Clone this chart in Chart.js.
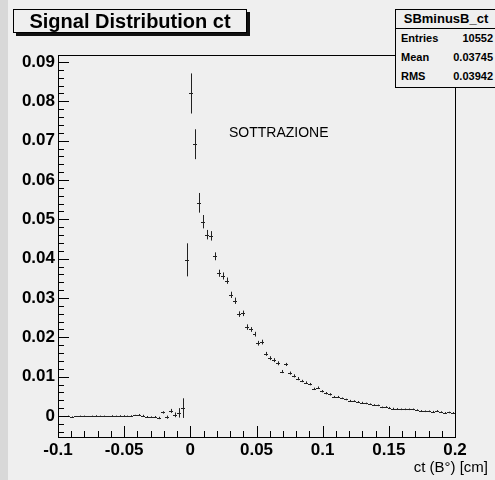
<!DOCTYPE html>
<html>
<head>
<meta charset="utf-8">
<title>Signal Distribution ct</title>
<script src="https://cdn.jsdelivr.net/npm/chart.js@4.4.1/dist/chart.umd.min.js"></script>
<style>
  html, body { margin: 0; padding: 0; }
  body {
    width: 495px; height: 480px; position: relative; overflow: hidden;
    background: #d8d8d8;
    font-family: "Liberation Sans", Arial, Helvetica, sans-serif;
  }
  #pad { position: absolute; left: 8px; top: 0; width: 487px; height: 480px; background: #efefef; }
  #chart { position: absolute; left: 0; top: 0; }
  #title {
    position: absolute; left: 13px; top: 9px; width: 232px; height: 22px;
    border: 1px solid #000; background: #efefef; box-shadow: 3px 3px 0 #111;
    font-weight: bold; font-size: 20px; line-height: 22px; text-align: center; color: #000;
  }
  #stats {
    position: absolute; left: 395px; top: 9px; width: 110px; height: 77px;
    border: 1px solid #000; background: #efefef; color: #000; font-weight: bold;
  }
  #stats .head {
    width: 100px; height: 18px; line-height: 18px; font-size: 13px; text-align: center;
    border-bottom: 1px solid #000;
  }
  #stats .row { position: relative; width: 100px; height: 19px; line-height: 19px; font-size: 11px; }
  #stats .row span { position: absolute; }
  #stats .row .k { left: 5px; }
  #stats .row .v { right: 3px; }
  #note { position: absolute; left: 229px; top: 125px; font-size: 14px; line-height: 14px; color: #000; }
  #xtitle { position: absolute; right: 7px; top: 459px; font-size: 15px; line-height: 16px; color: #000; }
</style>
</head>
<body>
<div id="pad"></div>
<canvas id="chart" width="495" height="480"></canvas>
<div id="title">Signal Distribution ct</div>
<div id="stats">
  <div class="head">SBminusB_ct</div>
  <div class="row"><span class="k">Entries</span><span class="v">10552</span></div>
  <div class="row"><span class="k">Mean</span><span class="v">0.03745</span></div>
  <div class="row"><span class="k">RMS</span><span class="v">0.03942</span></div>
</div>
<div id="note">SOTTRAZIONE</div>
<div id="xtitle">ct (B°) [cm]</div>
<script>
// histogram binning: 100 bins from -0.1 to 0.2 cm
const binLow = -0.1;
const binWidth = 0.003;

const binValues = [
  -0.0001, -0.0001, 0.0000, -0.0002, -0.0001, 0.0000, 0.0000, -0.0001, 0.0000, 0.0001,
  0.0000, 0.0000, -0.0001, 0.0001, 0.0000, 0.0001, 0.0001, 0.0000, 0.0001, 0.0002,
  0.0003, 0.0001, -0.0002, -0.0003, -0.0002, -0.0005, 0.0009, -0.0003, 0.0013, 0.0003,
  0.0008, 0.0020, 0.0397, 0.0820, 0.0691, 0.0542, 0.0494, 0.0461, 0.0458, 0.0406,
  0.0363, 0.0356, 0.0344, 0.0308, 0.0293, 0.0259, 0.0261, 0.0226, 0.0220, 0.0208,
  0.0185, 0.0188, 0.0158, 0.0147, 0.0142, 0.0134, 0.0113, 0.0131, 0.0109, 0.0102,
  0.0095, 0.0089, 0.0085, 0.0081, 0.0069, 0.0072, 0.0063, 0.0058, 0.0055, 0.0049,
  0.0049, 0.0045, 0.0042, 0.0039, 0.0038, 0.0036, 0.0034, 0.0032, 0.0030, 0.0028,
  0.0027, 0.0022, 0.0023, 0.0021, 0.0019, 0.0018, 0.0017, 0.0017, 0.0017, 0.0017,
  0.0015, 0.0013, 0.0012, 0.0012, 0.0011, 0.0013, 0.0010, 0.0008, 0.0009, 0.0008
];

const binErrors = [
  0.0001, 0.0001, 0.0001, 0.0001, 0.0001, 0.0001, 0.0001, 0.0001, 0.0001, 0.0001,
  0.0001, 0.0001, 0.0001, 0.0001, 0.0001, 0.0001, 0.0001, 0.0001, 0.0001, 0.0001,
  0.0002, 0.0002, 0.0002, 0.0002, 0.0002, 0.0003, 0.0003, 0.0004, 0.0005, 0.0006,
  0.0012, 0.0025, 0.0042, 0.0051, 0.0038, 0.0025, 0.0017, 0.0012, 0.0012, 0.0010,
  0.0009, 0.0009, 0.0008, 0.0008, 0.0008, 0.0007, 0.0007, 0.0007, 0.0006, 0.0006,
  0.0006, 0.0006, 0.0005, 0.0005, 0.0005, 0.0005, 0.0004, 0.0004, 0.0004, 0.0004,
  0.0004, 0.0003, 0.0003, 0.0003, 0.0003, 0.0003, 0.0003, 0.0003, 0.0003, 0.0002,
  0.0002, 0.0002, 0.0002, 0.0002, 0.0002, 0.0002, 0.0002, 0.0002, 0.0002, 0.0002,
  0.0002, 0.0002, 0.0002, 0.0002, 0.0002, 0.0002, 0.0002, 0.0002, 0.0002, 0.0002,
  0.0002, 0.0002, 0.0002, 0.0002, 0.0002, 0.0002, 0.0002, 0.0002, 0.0002, 0.0002
];

const xTicks = [-0.1, -0.05, 0, 0.05, 0.1, 0.15, 0.2];
const xTickLabels = ["-0.1", "-0.05", "0", "0.05", "0.1", "0.15", "0.2"];
const yTicks = [0, 0.01, 0.02, 0.03, 0.04, 0.05, 0.06, 0.07, 0.08, 0.09];
const yTickLabels = ["0", "0.01", "0.02", "0.03", "0.04", "0.05", "0.06", "0.07", "0.08", "0.09"];

const binCenters = binValues.map((_, i) => binLow + binWidth * (i + 0.5));

// error-bar crosses: horizontal bar over the bin, vertical bar for the error
const histBars = {
  id: "histBars",
  afterDatasetsDraw(chart) {
    const { ctx, chartArea, scales: { x, y } } = chart;
    ctx.save();
    ctx.beginPath();
    ctx.rect(chartArea.left, chartArea.top, chartArea.width, chartArea.height);
    ctx.clip();
    ctx.strokeStyle = "#222";
    ctx.lineWidth = 1;
    ctx.beginPath();
    binCenters.forEach((c, i) => {
      const v = binValues[i];
      const e = binErrors[i];
      const px = Math.round(x.getPixelForValue(c)) + 0.5;
      const py = Math.round(y.getPixelForValue(v)) + 0.5;
      ctx.moveTo(Math.round(x.getPixelForValue(c - binWidth / 2)), py);
      ctx.lineTo(Math.round(x.getPixelForValue(c + binWidth / 2)), py);
      ctx.moveTo(px, y.getPixelForValue(v + e));
      ctx.lineTo(px, y.getPixelForValue(v - e));
    });
    ctx.stroke();
    ctx.restore();
  }
};

// frame box with inward ticks on the left and bottom axes
const frameTicks = {
  id: "frameTicks",
  afterDraw(chart) {
    const { ctx, chartArea: a, scales: { x, y } } = chart;
    ctx.save();
    ctx.strokeStyle = "#000";
    ctx.lineWidth = 1;
    ctx.strokeRect(a.left + 0.5, a.top + 0.5, a.right - a.left, a.bottom - a.top);
    ctx.beginPath();
    for (let k = -2; k <= 45; k++) {
      const v = k * 0.002;
      if (v < y.min || v > y.max) continue;
      const py = Math.round(y.getPixelForValue(v)) + 0.5;
      const len = k % 5 === 0 ? 11 : 6;
      ctx.moveTo(a.left, py);
      ctx.lineTo(a.left + len, py);
    }
    for (let k = -10; k <= 20; k++) {
      const v = k * 0.01;
      const px = Math.round(x.getPixelForValue(v)) + 0.5;
      const len = k % 5 === 0 ? 11 : 6;
      ctx.moveTo(px, a.bottom);
      ctx.lineTo(px, a.bottom - len);
    }
    ctx.stroke();
    ctx.restore();
  }
};

const tickFont = { family: "'Liberation Sans', Arial, sans-serif", size: 17, weight: "bold" };

new Chart(document.getElementById("chart").getContext("2d"), {
  type: "scatter",
  data: {
    datasets: [{
      label: "SBminusB_ct",
      data: binCenters.map((c, i) => ({ x: c, y: binValues[i] })),
      pointRadius: 0,
      showLine: false
    }]
  },
  options: {
    responsive: false,
    animation: false,
    devicePixelRatio: 1,
    layout: { padding: { left: 0, top: 55, right: 40, bottom: 0 } },
    plugins: { legend: { display: false }, tooltip: { enabled: false } },
    scales: {
      x: {
        type: "linear",
        min: -0.1,
        max: 0.2,
        border: { display: false },
        grid: { display: false, drawTicks: false },
        afterBuildTicks(scale) { scale.ticks = xTicks.map(v => ({ value: v })); },
        afterFit(scale) { scale.height = 43; },
        ticks: {
          color: "#000",
          font: tickFont,
          padding: 3,
          maxRotation: 0,
          autoSkip: false,
          callback: (v, i) => xTickLabels[i]
        }
      },
      y: {
        type: "linear",
        min: -0.00534,
        max: 0.09178,
        border: { display: false },
        grid: { display: false, drawTicks: false },
        afterBuildTicks(scale) { scale.ticks = yTicks.map(v => ({ value: v })); },
        afterFit(scale) { scale.width = 58; },
        ticks: {
          color: "#000",
          font: tickFont,
          padding: 3,
          autoSkip: false,
          callback: (v, i) => yTickLabels[i]
        }
      }
    }
  },
  plugins: [histBars, frameTicks]
});
</script>
</body>
</html>
